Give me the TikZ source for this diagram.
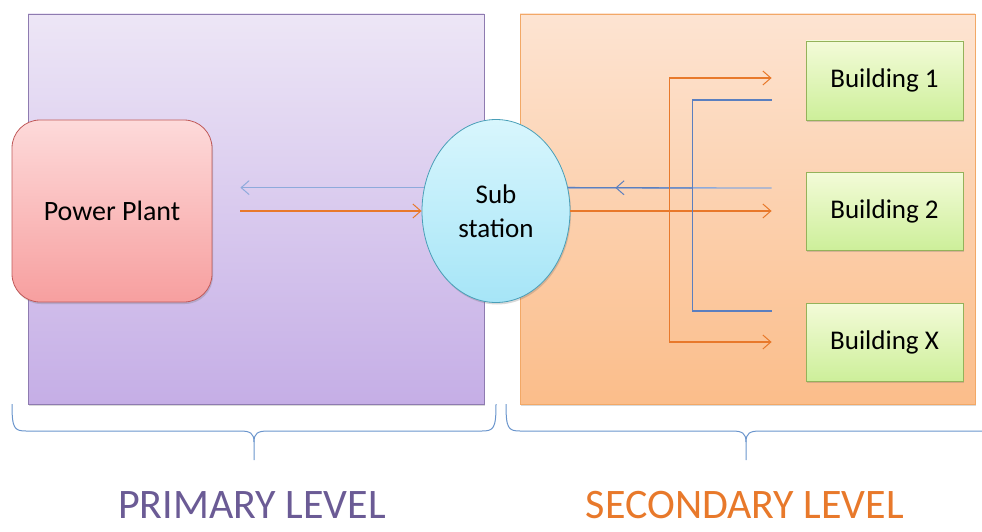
\documentclass[tikz,border=0pt]{standalone}
\usepackage{fontspec}
\setmainfont{Carlito}
\usetikzlibrary{arrows.meta,shapes.geometric,shadows,calc,decorations.markings}

\definecolor{lvlpurple}{HTML}{6B5B95}
\definecolor{lvlorange}{HTML}{E8792B}
\definecolor{flowblue}{HTML}{5B7FBF}
\definecolor{flowlight}{HTML}{8EAADB}
\definecolor{floworange}{HTML}{E8792B}
\definecolor{bracecol}{HTML}{6A95CC}
\definecolor{primline}{HTML}{8E7BB0}
\definecolor{primtop}{HTML}{EDE6F6}
\definecolor{primbot}{HTML}{C5AEE6}
\definecolor{secline}{HTML}{F2A866}
\definecolor{sectop}{HTML}{FDE4D2}
\definecolor{secbot}{HTML}{FBBD8A}
\definecolor{plantline}{HTML}{C05A5A}
\definecolor{planttop}{HTML}{FDDADA}
\definecolor{plantbot}{HTML}{F79F9F}
\definecolor{subline}{HTML}{4A9FB8}
\definecolor{subtop}{HTML}{D8F6FD}
\definecolor{subbot}{HTML}{A6E5F7}
\definecolor{bldline}{HTML}{94B25A}
\definecolor{bldtop}{HTML}{F3FBD8}
\definecolor{bldbot}{HTML}{CDEF9A}

\tikzset{
  softshadow/.style={drop shadow={shadow xshift=1pt,shadow yshift=-2pt,opacity=0.25,fill=black!60}},
  levelbox/.style={rectangle,inner sep=0pt,line width=0.8pt,softshadow},
  primarybox/.style={levelbox,draw=primline,top color=primtop,bottom color=primbot},
  secondarybox/.style={levelbox,draw=secline,top color=sectop,bottom color=secbot},
  plantbox/.style={rectangle,rounded corners=28pt,inner sep=0pt,line width=0.8pt,
    draw=plantline,top color=planttop,bottom color=plantbot,softshadow,
    minimum width=200pt,minimum height=182pt,font=\fontsize{28}{32}\selectfont},
  subnode/.style={ellipse,inner sep=0pt,line width=0.8pt,draw=subline,
    top color=subtop,bottom color=subbot,softshadow,
    minimum width=148pt,minimum height=183pt,align=center,
    font=\fontsize{27}{34}\selectfont},
  buildbox/.style={rectangle,inner sep=0pt,line width=0.8pt,draw=bldline,
    top color=bldtop,bottom color=bldbot,softshadow,
    minimum width=157pt,minimum height=78pt,font=\fontsize{27}{30}\selectfont},
  tip/.style={-{Straight Barb[length=8pt,width=14pt,line width=1pt]}},
  orangeflow/.style={draw=floworange,line width=1.3pt},
  blueflow/.style={draw=flowblue,line width=1.3pt},
  lightflow/.style={draw=flowlight,line width=1.3pt},
  bracepath/.style={draw=bracecol,line width=1pt},
  levellabel/.style={font=\fontsize{42}{42}\selectfont,anchor=center,inner sep=1pt}
}

\begin{document}
\begin{tikzpicture}[x=1pt,y=-1pt]
\useasboundingbox (0,0) rectangle (982,532);

% level backgrounds
\node[primarybox,minimum width=456pt,minimum height=390pt] (primary) at (256,209) {};
\node[secondarybox,minimum width=455pt,minimum height=390pt] (secondary) at (747.5,209) {};

% plant, substation, buildings
\node[plantbox] (plant) at (112,211) {Power Plant};
\node[subnode] (sub) at (496,211) {Sub\\station};
\node[buildbox,minimum height=79pt] (b1) at (884.5,80.5) {Building 1};
\node[buildbox] (b2) at (884.5,211) {Building 2};
\node[buildbox] (bx) at (884.5,342) {Building X};

% primary level flows
\draw[lightflow,tip,shorten >=28pt] (sub.162) -- (plant.east |- sub.162);
\draw[orangeflow,tip,shorten <=28pt] (plant.east |- sub.west) -- (sub.west);

% secondary level: return line with mid arrow
\coordinate (ret) at ($(b2.west)+(-34,-23)$);
\draw[lightflow] (ret) -- (sub.18);
\draw[blueflow,postaction={decorate},
  decoration={markings,mark=at position 0.62 with {\arrow{Straight Barb[length=8pt,width=14pt,line width=1pt]}}}]
  ($(ret)+(-79,0)$) -- (sub.18);
% supply line to building 2
\draw[orangeflow,tip,shorten >=34pt] (sub.east) -- (b2.west);

% orange supply branch to buildings 1 and X
\draw[orangeflow,{Straight Barb[length=8pt,width=14pt,line width=1pt]}-{Straight Barb[length=8pt,width=14pt,line width=1pt]}]
  ($(b1.west)+(-34,-2.5)$) -- ($(b1.west)+(-136,-2.5)$) -- ($(bx.west)+(-136,0)$) -- ($(bx.west)+(-34,0)$);

% blue return branch from buildings 1 and X
\draw[blueflow] ($(b1.west)+(-34,19.5)$) -- ($(b1.west)+(-113,19.5)$) -- ($(bx.west)+(-113,-31)$) -- ($(bx.west)+(-34,-31)$);

% braces under the levels
\draw[bracepath] (12,404) .. controls (12,428) and (14,431) .. (26,431) -- (240,431)
  .. controls (250,431) and (254,433) .. (254,442) -- (254,460);
\draw[bracepath] (254,442) .. controls (254,433) and (258,431) .. (268,431) -- (482,431)
  .. controls (494,431) and (496,428) .. (496,404);
\draw[bracepath] (506,404) .. controls (506,428) and (508,431) .. (520,431) -- (732,431)
  .. controls (742,431) and (746,433) .. (746,442) -- (746,460);
\draw[bracepath] (746,442) .. controls (746,433) and (750,431) .. (760,431) -- (982,431);

% level captions
\node[levellabel,text=lvlpurple] (primarylabel) at (252,505) {PRIMARY LEVEL};
\node[levellabel,text=lvlorange] (secondarylabel) at (745,505) {SECONDARY LEVEL};
\end{tikzpicture}
\end{document}
